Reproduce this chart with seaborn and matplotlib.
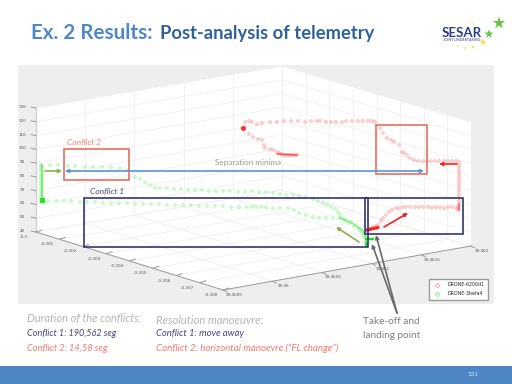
import numpy as np
import matplotlib
matplotlib.use('Agg')
import matplotlib.pyplot as plt
from matplotlib.lines import Line2D
from matplotlib.patches import Polygon, Rectangle
import seaborn as sns

# tick labels of the 3D axes
z_ticks = ['130', '120', '110', '100', '90', '80', '70', '60', '50', '40']
x_ticks = ['-0.3', '-0.301', '-0.302', '-0.303', '-0.304', '-0.305', '-0.306', '-0.307', '-0.308']
y_ticks = ['39.4595', '39.46', '39.4605', '39.461', '39.4615', '39.462']

# tracks (screen px)
red_upper_x = [297, 295, 293, 291, 289, 287, 285, 283, 281, 279, 277, 273, 270, 265, 264, 262, 258, 253, 249, 243, 242, 244,
               245, 249, 252, 257, 262, 270, 277, 284, 291, 298, 305, 311, 317, 320, 326, 331, 336, 342, 346, 352, 358, 363, 368, 372, 375]
red_upper_y = [155, 155, 155, 155, 155, 155, 155, 155, 154, 153, 152, 150, 149, 148, 145, 140, 139, 137, 134, 128, 128, 127,
               122, 121, 122, 124, 123, 122, 122, 121, 121, 121, 122, 121, 121, 121, 122, 122, 122, 122, 121, 121, 121, 121, 121, 121, 122]
red_lower_x = [380, 383, 387, 391, 394, 399, 402, 404, 407, 410, 414, 418, 423, 427, 431, 435, 439, 444, 448, 452, 456, 459,
               459, 459, 459, 459, 459, 459, 459, 459, 459, 459, 459, 459, 459, 459, 458, 458, 458, 456, 452, 448, 444, 440, 436, 432,
               428, 423, 419, 415, 410, 406, 403, 399, 396, 392, 389, 386, 383, 381, 378, 376, 373, 371, 369, 367, 371, 374, 377]
red_lower_y = [128, 133, 138, 140, 142, 145, 152, 153, 155, 158, 160, 161, 161, 161, 161, 161, 161, 161, 161, 161, 161, 162,
               165, 168, 171, 174, 177, 180, 183, 186, 189, 192, 195, 198, 201, 204, 207, 208, 210, 208, 207, 207, 208, 207, 207, 208,
               207, 207, 207, 207, 207, 207, 207, 208, 208, 210, 212, 215, 218, 221, 225, 226, 227, 228, 229, 230, 229, 228, 228]
green_upper_x = [41, 41, 41, 41, 41, 41, 41, 41, 41, 41, 41, 41, 41, 41, 50, 58, 68, 75, 85, 93, 102, 111, 120, 128, 135, 140, 145, 150, 155,
                 160, 167, 174, 181, 188, 195, 202, 209, 216, 223, 230, 238, 245, 252, 259, 266, 273, 280, 286, 293, 299, 306, 313, 318, 323,
                 327, 331, 335, 338, 340, 341, 345, 351, 355, 359, 362, 364, 365, 366, 366, 366, 369, 373]
green_upper_y = [200, 197, 194, 191, 188, 185, 182, 179, 176, 173, 170, 168, 166, 165, 165, 165, 166, 166, 167, 167, 167, 167, 168, 170, 177, 179, 182, 185, 188,
                 188, 188, 189, 189, 190, 190, 190, 191, 191, 191, 191, 192, 192, 191, 192, 192, 193, 194, 195, 195, 196, 197, 199, 201, 203,
                 205, 207, 209, 212, 215, 218, 220, 222, 225, 228, 231, 235, 238, 240, 242, 244, 239, 239]
green_lower_x = [41, 48, 57, 64, 71, 80, 87, 95, 103, 111, 119, 127, 135, 143, 151, 159, 167, 175, 183, 191, 199, 207, 215, 223, 231, 239, 247, 252, 256,
                 261, 266, 273, 280, 288, 294, 299, 306, 313, 319, 326, 333, 339, 344, 349, 354, 359, 362, 364]
green_lower_y = [200, 201, 201, 201, 201, 202, 202, 202, 203, 203, 203, 203, 204, 204, 204, 204, 205, 205, 205, 205, 206, 206, 206, 206, 207, 207, 207, 207, 207,
                 207, 207, 208, 208, 208, 210, 213, 215, 217, 218, 218, 218, 218, 220, 223, 226, 230, 233, 237]

sns.set_style('white')
plt.rcParams['font.family'] = ['Lato', 'DejaVu Sans']

fig = plt.figure(figsize=(5.12, 3.84), dpi=100)
ax = fig.add_axes([0, 0, 1, 1])
ax.set_xlim(0, 512)
ax.set_ylim(384, 0)
ax.axis('off')

# slide furniture
ax.add_patch(Rectangle((18, 65), 476, 239, fc='#eeeeee', ec='none'))
ax.add_patch(Rectangle((0, 366), 512, 18, fc='#4f86c6', ec='none'))
ax.text(473, 374.5, '131', color='#dce8f5', fontsize=4.5, ha='center', va='center')
ax.text(31, 33, 'Ex. 2 Results:', color='#4f88c6', fontsize=14.9, fontweight='bold', va='center')
ax.text(160, 34, 'Post-analysis of telemetry', color='#2f6299', fontsize=13.2, fontweight='bold', va='center')

# logo
ax.text(442, 33, 'SESAR', color='#2c3e8f', fontsize=9.5, fontweight='bold', va='center')
ax.text(443, 40, 'JOINT UNDERTAKING', color='#2c3e8f', fontsize=2.6, va='center')
ax.scatter([499, 489], [23, 34], marker='*', s=[90, 50], c='#6cc24a', linewidths=0)
ax.scatter([483, 473, 465, 458, 473, 470, 465], [42, 47, 48, 46, 24, 22, 26], marker='*',
           s=[30, 10, 8, 5, 3, 3, 3], c='#f5e04a', linewidths=0)

# 3D box: back corner, left, right and front floor corners
top = 124
back = np.array([282, 190])
left = np.array([36, 232])
right = np.array([471, 246])
front = np.array([223, 290])
up = np.array([0, -top])

ax.add_patch(Polygon([left, back, right, front], fc='white', ec='none'))
ax.add_patch(Polygon([left, back, back + up, left + up], fc='white', ec='none'))
ax.add_patch(Polygon([back, right, right + up, back + up], fc='white', ec='none'))

grid = dict(color='#efefef', lw=0.6, zorder=1)
nz = len(z_ticks) - 1
nx = len(x_ticks) - 1
ny = len(y_ticks) - 1
for i in range(nz + 1):
    off = up * i / nz
    ax.plot(*zip(left + off, back + off), **grid)
    ax.plot(*zip(back + off, right + off), **grid)
for i in range(ny + 1):
    a = left + (back - left) * i / ny
    ax.plot(*zip(a, a + up), **grid)
    b = front + (right - front) * i / ny
    ax.plot(*zip(a, b), **grid)
for i in range(nx + 1):
    a = back + (right - back) * i / nx
    ax.plot(*zip(a, a + up), **grid)
    b = left + (front - left) * i / nx
    ax.plot(*zip(a, b), **grid)

# axes lines and tick labels
axis = dict(color='#9a9a9a', lw=0.7, zorder=2)
ax.plot(*zip(left, left + up), color='#cfcfcf', lw=0.9, zorder=2)
ax.plot(*zip(left, front), **axis)
ax.plot(*zip(front, right), **axis)
tick_txt = dict(color='#555555', fontsize=3.0, ha='center', va='center', family='DejaVu Sans')
for i, lab in enumerate(z_ticks):
    p = left + up * (nz - i) / nz
    ax.plot([p[0] - 5, p[0]], [p[1] - 1, p[1]], **axis)
    ax.text(p[0] - 14, p[1] - 1, lab, **tick_txt)
for i, lab in enumerate(x_ticks):
    p = left + (front - left) * i / nx
    ax.plot([p[0], p[0] + 6], [p[1], p[1] - 2], **axis)
    ax.text(p[0] - 12, p[1] + 5, lab, **tick_txt)
for i, lab in enumerate(y_ticks):
    p = front + (right - front) * i / ny
    ax.plot([p[0], p[0] + 4], [p[1], p[1] + 2], **axis)
    ax.text(p[0] + 11, p[1] + 5, lab, **tick_txt)

# drone tracks
red_kw = dict(marker='o', s=3.2, facecolors='none', edgecolor='#ffa0a0', linewidth=0.6, zorder=3, legend=False, ax=ax)
green_kw = dict(marker='o', s=3.2, facecolors='none', edgecolor='#a0f5a0', linewidth=0.6, zorder=3, legend=False, ax=ax)
sns.scatterplot(x=red_upper_x, y=red_upper_y, **red_kw)
sns.scatterplot(x=red_lower_x, y=red_lower_y, **red_kw)
sns.scatterplot(x=green_upper_x, y=green_upper_y, **green_kw)
sns.scatterplot(x=green_lower_x, y=green_lower_y, **green_kw)
# saturated start/end of the tracks
ax.plot([41.5, 41.5], [165, 200], color='#5cf05c', lw=1.6, alpha=0.8, zorder=3)
ax.plot([41.5], [200], 's', color='#30e030', ms=2.5, zorder=3)
ax.plot([340, 352, 362, 366, 366], [218, 223, 230, 237, 244], color='#70f070', lw=1.3, alpha=0.8, zorder=3)
ax.plot([366, 373], [239, 239], color='#20d820', lw=1.6, zorder=3)
ax.plot([366, 366], [243, 245], color='#20d820', lw=2, zorder=3)
ax.plot([367, 378], [230, 227.5], color='#ff2020', lw=2.2, zorder=4)
ax.plot([243], [128], 'o', color='#ff3030', ms=2.5, zorder=4)
ax.plot([277, 297], [154, 155], color='#ff5050', lw=1.1, zorder=4)
ax.plot([459, 459], [204, 210], color='#ff6060', lw=1.2, zorder=4)

# conflict boxes
for xy, w, h, col in [((64, 149), 65, 31, '#e8705f'), ((376, 125), 51, 49, '#e8705f'),
                      ((84, 198), 284, 49, '#34346e'), ((365, 198), 98, 36, '#34346e')]:
    ax.add_patch(Rectangle(xy, w, h, fc='none', ec=col, lw=1.2, zorder=5))

# arrows
def arrow(start, end, color, style='-|>', lw=1.2):
    ax.annotate('', xy=end, xytext=start, zorder=6,
                arrowprops=dict(arrowstyle=style, color=color, lw=lw, mutation_scale=5, shrinkA=0, shrinkB=0))

arrow((65, 171), (424, 171), '#5b93cf', '<|-|>')
arrow((45, 171), (62, 171), '#8db04a')
arrow((359, 242), (336, 227), '#8db04a')
arrow((384, 227), (408, 213), '#f02020')
arrow((457, 164), (439, 164), '#f02020')
arrow((397, 313), (372, 244), '#6a6a6a')
arrow((397, 313), (376, 235), '#6a6a6a')

# annotations in the plot
ax.text(67, 142, 'Conflict 2', color='#f08070', fontsize=6, style='italic', va='center', zorder=6)
ax.text(90, 191, 'Conflict 1', color='#4a4a80', fontsize=6, style='italic', va='center', zorder=6)
ax.text(215, 163, 'Separation minima', color='#9a9a9a', fontsize=5.8, va='center', zorder=6)

# legend
handles = [Line2D([], [], ls='', marker='o', ms=2.6, mfc='none', mec='#ff8f8f', mew=0.6, label='DRONE-6200d1'),
           Line2D([], [], ls='', marker='o', ms=2.6, mfc='none', mec='#70f070', mew=0.6, label='DRONE-3befa4')]
ax.legend(handles=handles, loc='lower right', bbox_to_anchor=(487.5, 299.5), bbox_transform=ax.transData,
          prop=dict(family='DejaVu Sans', size=3.4), fancybox=False, edgecolor='#9a9a9a', framealpha=1,
          borderpad=0.7, labelspacing=0.8, handletextpad=1.2, borderaxespad=0)

# text below the plot
ax.text(27, 318.5, 'Duration of the conflicts:', color='#b4b4b4', fontsize=7.9, style='italic', va='center')
ax.text(27, 333, 'Conflict 1: 190,562 seg', color='#45457a', fontsize=6.6, style='italic', va='center')
ax.text(27, 348.5, 'Conflict 2: 14,58 seg', color='#f07a6a', fontsize=6.7, style='italic', va='center')
ax.text(156, 320, 'Resolution manoeuvre:', color='#b4b4b4', fontsize=8.1, style='italic', va='center')
ax.text(156, 333, 'Conflict 1: move away', color='#45457a', fontsize=6.8, style='italic', va='center')
ax.text(156, 348, 'Conflict 2: horizontal manoevre (\u201cFL change\u201d)', color='#f07a6a', fontsize=7.0, style='italic', va='center')
ax.text(363, 322, 'Take-off and', color='#808080', fontsize=7.2, va='center')
ax.text(363, 336, 'landing point', color='#808080', fontsize=7.2, va='center')

fig.savefig('out.png', dpi=100)
